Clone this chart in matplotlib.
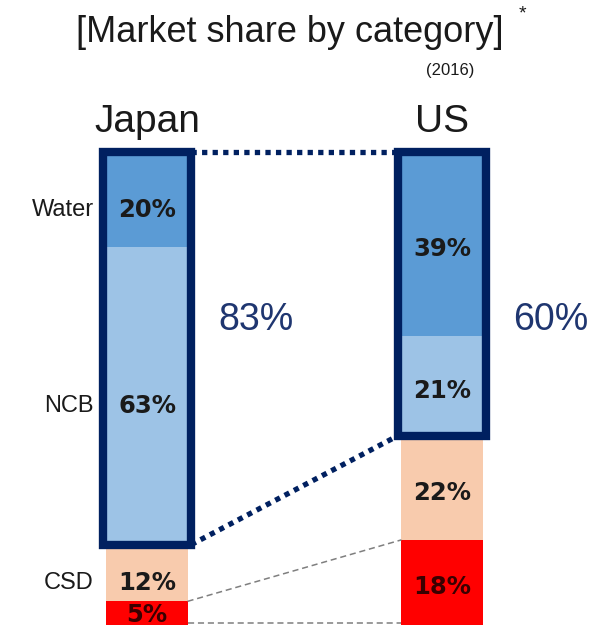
import matplotlib
matplotlib.use("Agg")
import matplotlib.pyplot as plt
from matplotlib.patches import Rectangle

plt.rcParams['font.family'] = ['Liberation Sans', 'DejaVu Sans']

countries = ["Japan", "US"]
segments = ["Water", "NCB", "CSD", "Other"]
japan = [20, 63, 12, 5]
us = [39, 21, 22, 18]
still_share = ["83%", "60%"]

seg_colors = ["#5b9bd5", "#9dc3e6", "#f8cbad", "#ff0000"]
navy = "#002060"

W, H = 605, 625
fig = plt.figure(figsize=(W / 100, H / 100), dpi=100)
top_px = 152
ax = fig.add_axes([0, 0, 1, (H - top_px) / H])
ax.set_ylim(100, 0)
ax.set_xlim(-147 / 295, (W - 147) / 295)
ax.axis("off")

bar_w = 0.275
box_w = 0.30
xs = [0, 1]
# japan labels sit a little below the segment middle
nudge = [2.2, 1.0]

for x, vals, dy in zip(xs, [japan, us], nudge):
    bottom = 0
    for v, c in zip(vals, seg_colors):
        ax.bar(x, v, bottom=bottom, width=bar_w, color=c, edgecolor="none", zorder=1)
        txt_col = "#3a0000" if c == "#ff0000" else "#1a1a1a"
        yy = bottom + v / 2 + (dy if v > 6 else 0.4)
        ax.text(x, yy, f"{v}%", ha="center", va="center",
                fontsize=17.5, fontweight="bold", family="DejaVu Sans",
                color=txt_col, zorder=3)
        bottom += v

# outline around the non-carbonated part (water + NCB)
for x, vals, share in zip(xs, [japan, us], still_share):
    h = vals[0] + vals[1]
    ax.add_patch(Rectangle((x - box_w / 2, 0), box_w, h, fill=False,
                           edgecolor=navy, lw=6, joinstyle="miter",
                           clip_on=False, zorder=4))
    ax.text(x + 0.37, 35.5, share, ha="center", va="center", fontsize=27,
            color="#1f3670")

# dotted connectors between boxes
jh = japan[0] + japan[1]
uh = us[0] + us[1]
for y0, y1 in [(0, 0), (jh, uh)]:
    ax.plot([xs[0] + box_w / 2, xs[1] - box_w / 2], [y0, y1], color=navy,
            lw=3.8, linestyle=(0, (1, 1)), dash_capstyle="butt",
            clip_on=False, zorder=4)

# thin dashed connectors for the red segment
jr = sum(japan[:3])
ur = sum(us[:3])
for y0, y1 in [(jr, ur), (99.6, 99.6)]:
    ax.plot([xs[0] + bar_w / 2, xs[1] - bar_w / 2], [y0, y1], color="#7f7f7f",
            lw=1.1, linestyle=(0, (4, 2.5)), clip_on=False, zorder=2)

# segment names left of the Japan bar
bottom = 0
for name, v in zip(segments[:3], japan[:3]):
    ax.text(xs[0] - box_w / 2 - 0.03, bottom + v / 2 + 2.2, name,
            ha="right", va="center", fontsize=17, color="#1a1a1a")
    bottom += v

for x, name in zip(xs, countries):
    ax.text(x, -6.4, name, ha="center", va="center", fontsize=28,
            color="#1a1a1a", clip_on=False)

fig.text(290 / W, 1 - 32 / H, "[Market share by category]", ha="center",
         va="center", fontsize=26, color="#1a1a1a")
fig.text(522 / W, 1 - 14 / H, "*", ha="center", va="center", fontsize=14,
         color="#1a1a1a")
fig.text(450 / W, 1 - 71 / H, "(2016)", ha="center", va="center",
         fontsize=12, color="#1a1a1a")

fig.savefig("out.png", dpi=100, facecolor="white")
